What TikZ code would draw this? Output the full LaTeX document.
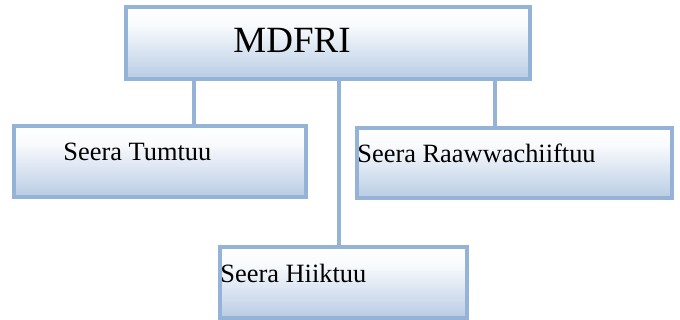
\documentclass[tikz,border=0pt]{standalone}
\usepackage{fontspec}
\setmainfont{Liberation Serif}
\usepackage{xcolor}
\usepackage{tikz}

\definecolor{boxline}{HTML}{95B3D7}
\definecolor{boxfill}{HTML}{B8CCE4}
\pgfdeclareverticalshading{unitshade}{100bp}{color(0bp)=(boxfill); color(25bp)=(boxfill);
        color(62bp)=(white!90!boxfill); color(75bp)=(white); color(100bp)=(white)}

\begin{document}
\begin{tikzpicture}[x=0.5pt, y=-0.5pt,
        unit/.style = {draw=boxline, line width=1.6pt, shading=unitshade,
                       inner sep=0pt, outer sep=0pt},
        link/.style = {draw=boxline, line width=1.6pt}]
                \useasboundingbox (0,0) rectangle (680,320);

                % Head office box
                \node[unit, minimum width=202pt, minimum height=36pt] (mdfri) at (328,43) {};
                \node[anchor=base west, inner sep=0pt] (mdfriT) at (233,53) {\fontsize{18.5}{22}\selectfont MDFRI};

                % Sections
                \node[unit, minimum width=146pt, minimum height=35.5pt] (tumtuu) at (160,161.5) {};
                \node[anchor=base west, inner sep=0pt] (tumtuuT) at (63,161) {\fontsize{13.2}{16}\selectfont Seera Tumtuu};

                \node[unit, minimum width=157.5pt, minimum height=35pt] (raaw) at (514.5,163) {};
                \node[anchor=base west, inner sep=0pt] (raawT) at (357,163) {\fontsize{13.2}{16}\selectfont Seera Raawwachiiftuu};

                \node[unit, minimum width=123.5pt, minimum height=35.5pt] (hiik) at (343.5,282.5) {};
                \node[anchor=base west, inner sep=0pt] (hiikT) at (220,283) {\fontsize{13.2}{16}\selectfont Seera Hiiktuu};

                % Links from MDFRI down to the sections
                \coordinate (jT) at (194,0);
                \coordinate (jH) at (339,0);
                \coordinate (jR) at (495,0);
                \draw[link] (mdfri.south -| jT) -- (tumtuu.north -| jT);
                \draw[link] (mdfri.south -| jH) -- (hiik.north -| jH);
                \draw[link] (mdfri.south -| jR) -- (raaw.north -| jR);

            \end{tikzpicture}
\end{document}
